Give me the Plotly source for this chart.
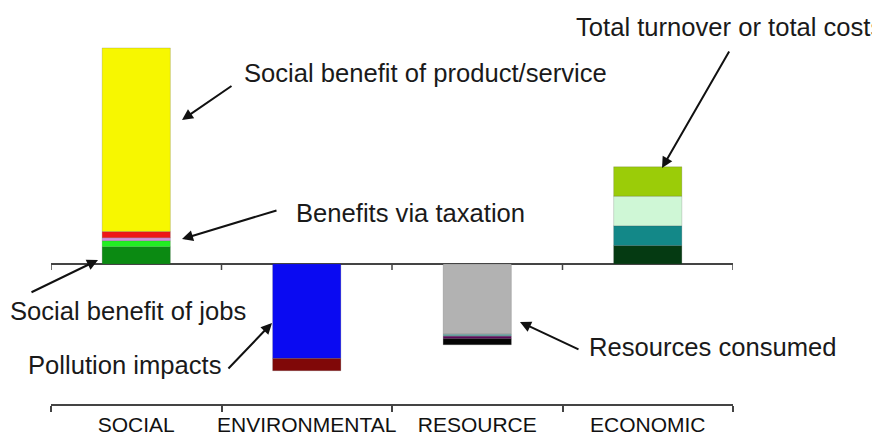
import plotly.graph_objects as go

# ---- data (arbitrary units; social total = 100) ----
categories = ["SOCIAL", "ENVIRONMENTAL", "RESOURCE", "ECONOMIC"]

social_names = ["Social benefit of jobs", "Jobs (other)", "Taxation (other)", "Benefits via taxation",
                "Social benefit of product/service"]
social_values = [8.0, 2.8, 1.4, 2.8, 85.0]
social_colors = ["#0b8a12", "#22ee22", "#d090e0", "#ee1818", "#f7f700"]

env_names = ["Pollution impacts", "Other impacts"]
env_values = [-43.7, -5.7]
env_colors = ["#0a0af2", "#800808"]

res_names = ["Resources consumed", "Resource 2", "Resource 3", "Resource 4"]
res_values = [-32.5, -0.9, -1.2, -2.8]
res_colors = ["#b2b2b2", "#6aaaa8", "#5a0a5a", "#050505"]

eco_names = ["Cost 1", "Cost 2", "Cost 3", "Total turnover or total costs"]
eco_values = [8.6, 9.1, 13.7, 13.6]
eco_colors = ["#053a12", "#138888", "#cff7d6", "#9bcc08"]

y_range = [-64.8, 118.5]

# ---- figure (page has an 8px body margin, so the figure is 8px smaller) ----
OFF = 8
W, H = 880 - OFF, 438 - OFF
ML, MR, MT, MB = 43, 147, 0, 34
PW, PH = W - ML - MR, H - MT - MB


def px_x(sx):
    return (sx - OFF - ML) / PW


def px_y(sy):
    return (H - MB - (sy - OFF)) / PH


fig = go.Figure()


def add_stack(cat, names, values, colors):
    for n, v, c in zip(names, values, colors):
        fig.add_trace(go.Bar(
            x=[cat], y=[v], name=n, width=0.4,
            marker=dict(color=c, line=dict(color="rgba(70,70,70,0.4)", width=0.5)),
            showlegend=False,
        ))


add_stack(categories[0], social_names, social_values, social_colors)
add_stack(categories[1], env_names, env_values, env_colors)
add_stack(categories[2], res_names, res_values, res_colors)
add_stack(categories[3], eco_names, eco_values, eco_colors)

# tick marks on the zero line at category boundaries
for i in range(len(categories) + 1):
    fig.add_shape(type="line", xref="x", yref="y", x0=i - 0.5, x1=i - 0.5,
                  ysizemode="pixel", yanchor=0, y0=0, y1=-6,
                  line=dict(color="#444444", width=1.5))

# labels
font = dict(family="Liberation Sans, Arial, sans-serif", size=25.6, color="#1a1a1a")
labels = [
    ("Social benefit of product/service", 242, 73),
    ("Benefits via taxation", 294, 213),
    ("Social benefit of jobs", 8, 311),
    ("Pollution impacts", 26, 365),
    ("Total turnover or total costs", 574, 27),
    ("Resources consumed", 587, 347),
]
for t, lx, ly in labels:
    fig.add_annotation(text=t, xref="paper", yref="paper", x=px_x(lx), y=px_y(ly),
                       xanchor="left", yanchor="middle", showarrow=False, font=font)

# arrows (tail -> head) in screen pixel positions
arrows = [
    ((233, 85), (182, 120)),
    ((278, 210), (182, 239)),
    ((30, 293), (98, 260)),
    ((227, 370), (272, 323)),
    ((730, 50), (662, 168)),
    ((580, 350), (520, 322)),
]
for (tx, ty), (hx, hy) in arrows:
    fig.add_annotation(text="", xref="paper", yref="paper", x=px_x(hx), y=px_y(hy),
                       ax=tx - hx, ay=ty - hy, showarrow=True, arrowhead=2,
                       arrowsize=1.1, arrowwidth=2, arrowcolor="#111111")

fig.update_layout(
    width=W, height=H,
    margin=dict(l=ML, r=MR, t=MT, b=MB, autoexpand=False),
    barmode="relative",
    bargap=0.6,
    paper_bgcolor="white", plot_bgcolor="white",
    showlegend=False,
    xaxis=dict(type="category", categoryorder="array", categoryarray=categories,
               range=[-0.5, len(categories) - 0.5], automargin=False,
               showline=True, linecolor="#444444", linewidth=1.5,
               ticks="outside", tickson="boundaries", ticklen=6, tickcolor="#444444", tickwidth=1.5,
               ticklabelstandoff=1, tickangle=0,
               tickfont=dict(family="Liberation Sans, Arial, sans-serif", size=21, color="#111111"),
               showgrid=False, fixedrange=True),
    yaxis=dict(range=y_range, showgrid=False, showticklabels=False, ticks="", automargin=False,
               zeroline=True, zerolinecolor="#444444", zerolinewidth=1.5,
               showline=False, fixedrange=True),
)

fig.write_html("out.html")
